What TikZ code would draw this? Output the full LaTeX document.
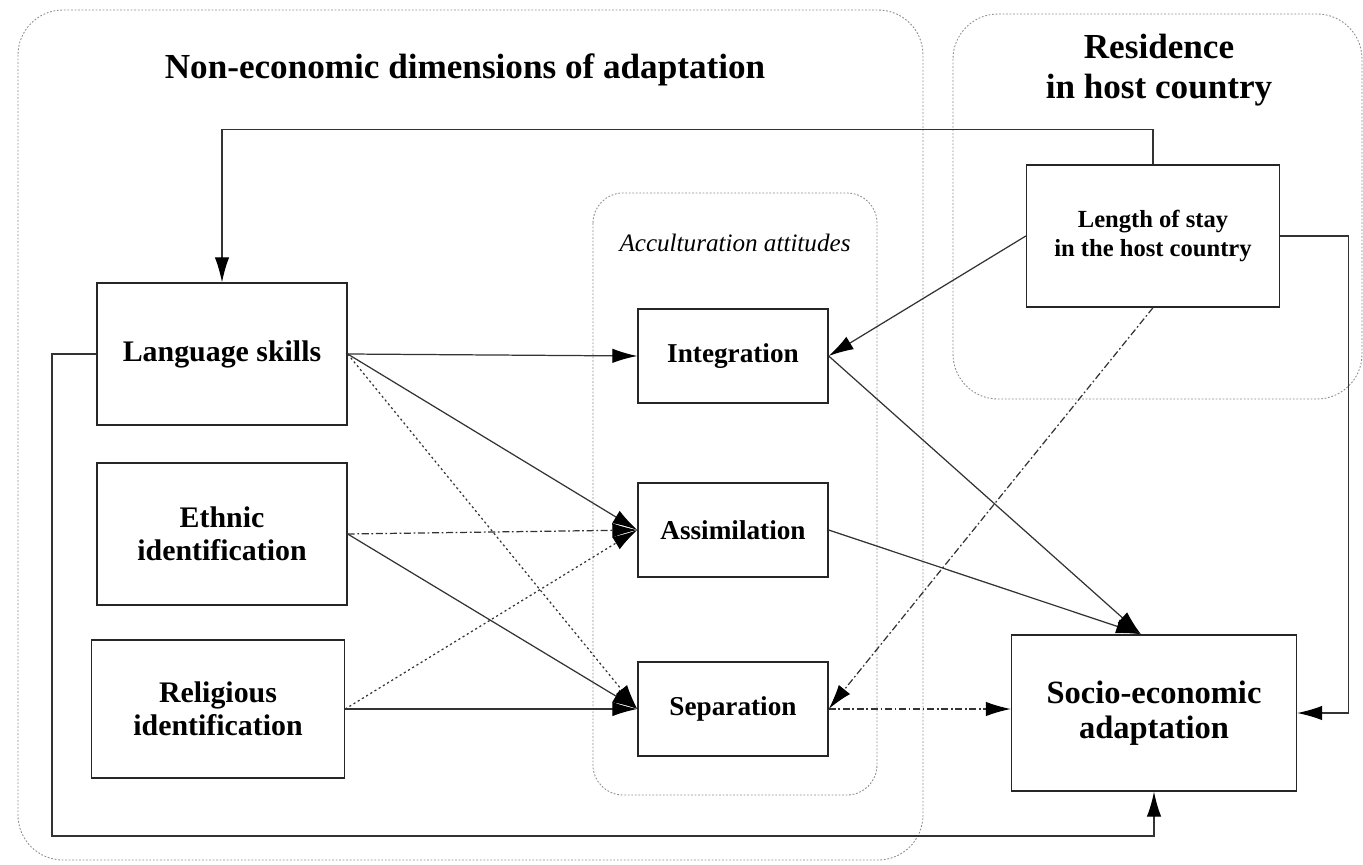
\documentclass[tikz,border=0pt]{standalone}
\usepackage{fontspec}
\setmainfont{Liberation Serif}
\usepackage{tikz}
\usetikzlibrary{arrows.meta}
\tikzstyle{arrow} = [line width=0.7pt, draw=black!80, -{Latex[length=5mm,width=2.9mm,black]}]
\tikzstyle{dotarrow} = [arrow, dash pattern=on 1.2pt off 1.6pt]
\tikzstyle{dasharrow} = [arrow, dash pattern=on 4pt off 1.5pt on 1pt off 1.5pt]
\tikzstyle{group} = [draw=black!45, line width=0.5pt, dash pattern=on 1pt off 1pt, rounded corners=0.9cm]
\tikzstyle{title} = [font=\bfseries\fontsize{20}{22.5}\selectfont, align=center]
\tikzstyle{factor} = [
    rectangle, draw=black!85, line width=0.8pt, fill=white, align=center,
    minimum width=5cm, minimum height=2.84cm, font=\bfseries\fontsize{17}{19}\selectfont]
\tikzstyle{attitude} = [
    factor, minimum width=3.8cm, minimum height=1.88cm, font=\bfseries\fontsize{15.5}{18}\selectfont]

\begin{document}
\begin{tikzpicture}[x=0.02cm, y=-0.02cm]
\useasboundingbox (0,0) rectangle (1363,865);

% groups
\draw [group] (18,10) rectangle (923,860);
\draw [group] (953,14) rectangle (1362,399);
\draw [group, rounded corners=0.6cm] (593,193) rectangle (877,795);

\node (noneco) [title] at (465,70) {Non-economic dimensions of adaptation};
\node (resid) [title] at (1159,70) {Residence\\in host country};
\node (accult) [font=\itshape\fontsize{14.3}{16}\selectfont] at (735,243) {Acculturation attitudes};

% factors
\node (lang) [factor] at (222,354) {Language skills};
\node (ethnic) [factor] at (222,534) {Ethnic\\identification};
\node (relig) [factor, minimum width=5.06cm, minimum height=2.76cm] at (218,709) {Religious\\identification};

\node (integ) [attitude] at (733,356) {Integration};
\node (assim) [attitude] at (733,530) {Assimilation};
\node (separ) [attitude] at (733,709) {Separation};

\node (stay) [factor, minimum width=5.06cm, font=\bfseries\fontsize{14}{16.5}\selectfont] at (1153,236) {
    Length of stay \\
    in the host country
};
\node (socio) [factor, minimum width=5.7cm, minimum height=3.12cm, font=\bfseries\fontsize{18.5}{20}\selectfont] at (1154,713) {
    Socio-economic \\
    adaptation
};

\coordinate (socio top) at ([xshift=-0.26cm]socio.north);
\coordinate (ret) at (52,836);

% connectors
\draw [arrow] (lang.east) -- (integ.west);
\draw [arrow] (lang.east) -- (assim.west);
\draw [dotarrow] (lang.east) -- (separ.west);
\draw [dasharrow] (ethnic.east) -- (assim.west);
\draw [arrow] (ethnic.east) -- (separ.west);
\draw [dotarrow] (relig.east) -- (assim.west);
\draw [arrow] (relig.east) -- (separ.west);

\draw [arrow] (stay.west) -- (integ.east);
\draw [dasharrow] (stay.south) -- (separ.east);
\draw [arrow] (integ.east) -- (socio top);
\draw [arrow] (assim.east) -- (socio top);
\draw [dasharrow] (separ.east) -- (separ.east -| socio.west);

\draw [arrow] (stay.north) -- ++(0,-35) -| (lang.north);
\draw [arrow] (stay.east) -- ++(68,0) |- (socio.east);
\draw [arrow] (lang.west) -| (ret) -| (socio.south);
\end{tikzpicture}
\end{document}
